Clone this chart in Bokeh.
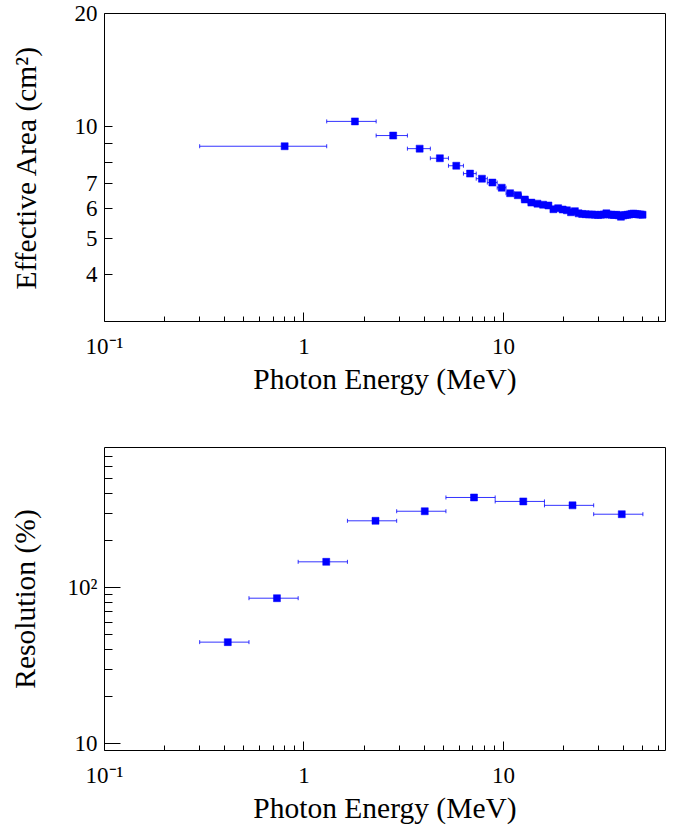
from bokeh.plotting import figure
from bokeh.layouts import column
from bokeh.models import ColumnDataSource, Whisker, TeeHead, FixedTicker
from bokeh.embed import file_html
from bokeh.resources import INLINE

# ---------------- data ----------------
# Effective area vs photon energy (1 MeV wide bins, first bin 0.3-1.3 MeV)
ea_energy = [0.8, 1.8, 2.8, 3.8, 4.8, 5.8, 6.8, 7.8, 8.8, 9.8,
             10.8, 11.8, 12.8, 13.8, 14.8, 15.8, 16.8, 17.8, 18.8, 19.8,
             20.8, 21.8, 22.8, 23.8, 24.8, 25.8, 26.8, 27.8, 28.8, 29.8,
             30.8, 31.8, 32.8, 33.8, 34.8, 35.8, 36.8, 37.8, 38.8, 39.8,
             40.8, 41.8, 42.8, 43.8, 44.8, 45.8, 46.8, 47.8, 48.8, 49.8]
ea_value = [8.83, 10.29, 9.43, 8.70, 8.20, 7.83, 7.46, 7.23, 7.06, 6.84,
            6.61, 6.53, 6.36, 6.24, 6.20, 6.16, 6.13, 5.99, 6.03, 5.98,
            5.95, 5.88, 5.92, 5.84, 5.82, 5.81, 5.80, 5.80, 5.79, 5.78,
            5.79, 5.80, 5.84, 5.80, 5.79, 5.78, 5.79, 5.77, 5.72, 5.76,
            5.78, 5.79, 5.80, 5.82, 5.83, 5.82, 5.81, 5.80, 5.80, 5.79]
ea_half_width = 0.5

# Resolution vs photon energy (log-spaced bins)
res_edges = [0.3, 0.530, 0.935, 1.651, 2.915, 5.147, 9.088, 16.05, 28.33, 50.0]
res_energy = [0.415, 0.732, 1.293, 2.283, 4.031, 7.117, 12.57, 22.19, 39.17]
res_value = [44.7, 85.6, 146.6, 268.9, 309.7, 379.6, 358.1, 337.9, 296.4]

# axis ticks / labels
x_major = [0.1, 1, 10]
x_minor = [0.2, 0.3, 0.4, 0.5, 0.6, 0.7, 0.8, 0.9, 2, 3, 4, 5, 6, 7, 8, 9,
           20, 30, 40, 50, 60]
x_labels = {0.1: "10⁻¹", 1: "1", 10: "10"}
ea_y_major = [4, 5, 6, 7, 10, 20]
ea_y_minor = [8, 9]
ea_y_labels = {4: "4", 5: "5", 6: "6", 7: "7", 10: "10", 20: "20"}
res_y_major = [10, 100]
res_y_minor = [20, 30, 40, 50, 60, 70, 80, 90, 200, 300, 400, 500, 600, 700]
res_y_labels = {10: "10", 100: "10²"}

FONT = "Liberation Serif"
BLUE = "#0000ff"


def style(p, xs1, xs2, ys2, ymaj_len, ymin_len):
    p.grid.visible = False
    p.outline_line_color = "black"
    p.outline_line_width = 1
    p.outline_line_alpha = 1.0
    p.background_fill_color = "white"
    p.border_fill_color = "white"
    for ax in (p.xaxis[0], p.yaxis[0]):
        ax.axis_line_color = None
        ax.major_tick_out = 0
        ax.minor_tick_out = 0
        ax.major_tick_line_color = "black"
        ax.minor_tick_line_color = "black"
        ax.major_label_text_font = FONT
        ax.major_label_text_font_size = "23px"
        ax.major_label_text_color = "black"
        ax.axis_label_text_font = FONT
        ax.axis_label_text_font_size = "29.5px"
        ax.axis_label_text_font_style = "normal"
        ax.axis_label_text_color = "black"
    xa = p.xaxis[0]
    xa.ticker = FixedTicker(ticks=x_major, minor_ticks=x_minor)
    xa.major_label_overrides = x_labels
    xa.major_tick_in = 9
    xa.minor_tick_in = 5
    xa.major_label_standoff = xs1
    xa.axis_label_standoff = xs2
    xa.axis_label = "Photon Energy (MeV)"
    ya = p.yaxis[0]
    ya.major_tick_in = ymaj_len
    ya.minor_tick_in = ymin_len
    ya.major_label_standoff = 7
    ya.axis_label_standoff = ys2


def add_points(p, x, lo, hi, y):
    src = ColumnDataSource(dict(x=x, lo=lo, hi=hi, y=y))
    w = Whisker(source=src, base="y", lower="lo", upper="hi", dimension="width",
                line_color=BLUE, line_width=1, line_alpha=0.8,
                lower_head=TeeHead(size=4, line_color=BLUE, line_width=1, line_alpha=0.8),
                upper_head=TeeHead(size=4, line_color=BLUE, line_width=1, line_alpha=0.8))
    p.add_layout(w)
    p.scatter("x", "y", source=src, marker="square", size=7,
              fill_color=BLUE, line_color=BLUE, line_width=0.5)


# ---------------- top: effective area ----------------
p1 = figure(width=667, height=413, x_axis_type="log", y_axis_type="log",
            x_range=(0.1, 64.9), y_range=(3.0, 20.0),
            output_backend="svg", toolbar_location=None,
            min_border_left=104, min_border_right=2,
            min_border_top=13, min_border_bottom=92)
style(p1, 12, 1, 30, 8, 8)
p1.yaxis[0].ticker = FixedTicker(ticks=ea_y_major, minor_ticks=ea_y_minor)
p1.yaxis[0].major_label_overrides = ea_y_labels
p1.yaxis[0].axis_label = "Effective Area (cm²)"
add_points(p1, ea_energy,
           [e - ea_half_width for e in ea_energy],
           [e + ea_half_width for e in ea_energy],
           ea_value)

# ---------------- bottom: resolution ----------------
p2 = figure(width=667, height=413, x_axis_type="log", y_axis_type="log",
            x_range=(0.1, 64.9), y_range=(9.0, 795.0),
            output_backend="svg", toolbar_location=None,
            min_border_left=104, min_border_right=2,
            min_border_top=34, min_border_bottom=72)
style(p2, 12, 1, 24, 16, 8)
p2.yaxis[0].ticker = FixedTicker(ticks=res_y_major, minor_ticks=res_y_minor)
p2.yaxis[0].major_label_overrides = res_y_labels
p2.yaxis[0].axis_label = "Resolution (%)"
add_points(p2, res_energy, res_edges[:-1], res_edges[1:], res_value)

layout = column(p1, p2, spacing=0)
open("out.html", "w").write(file_html(layout, INLINE))
